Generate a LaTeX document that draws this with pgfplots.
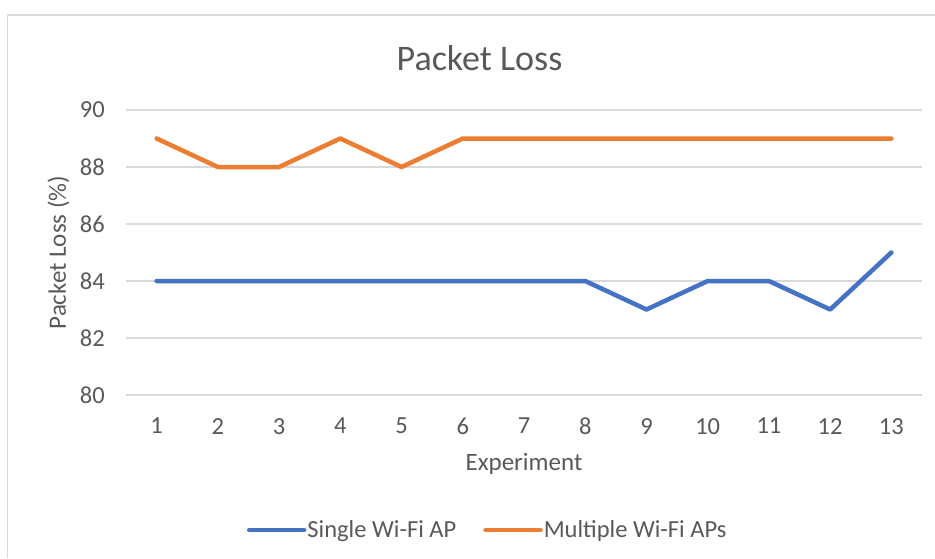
\documentclass[border=0pt]{standalone}
\usepackage{pgfplots}
\pgfplotsset{compat=1.18}
\usepackage{fontspec}
\setmainfont{Carlito}
\definecolor{cblue}{HTML}{4472C4}
\definecolor{corange}{HTML}{ED7D31}
\definecolor{cgrid}{HTML}{D9D9D9}
\definecolor{ctext}{HTML}{595959}
\begin{document}
\begin{tikzpicture}[x=1pt,y=1pt]
\useasboundingbox (0,0) rectangle (935,558);
\draw[cgrid, line width=1.3pt] (7.5,0) -- (7.5,543) -- (935,543);
\begin{axis}[
  at={(126pt,163pt)}, anchor=south west,
  scale only axis, width=796pt, height=285pt,
  xmin=0.5, xmax=13.5, ymin=80, ymax=90,
  xtick={1,2,3,4,5,6,7,8,9,10,11,12,13},
  ytick={80,82,84,86,88,90},
  axis line style={draw=none},
  major tick length=0pt,
  ymajorgrids, grid style={cgrid, line width=1.3pt},
  /pgf/number format/assume math mode=true,
  every tick label/.append style={font=\fontsize{24.5}{28}\selectfont, text=ctext, inner sep=0pt},
  yticklabel style={anchor=east, xshift=-21pt},
  xticklabel style={anchor=north, yshift=-23pt},
  xlabel={Experiment},
  xlabel style={at={(axis description cs:0.5,-0.2632)}, anchor=base, font=\fontsize{25}{28}\selectfont, text=ctext, inner sep=0pt},
  ylabel={Packet Loss (\%)},
  ylabel style={at={(axis description cs:-0.0754,0.5)}, anchor=base, font=\fontsize{25}{28}\selectfont, text=ctext, inner sep=0pt},
  title={Packet Loss},
  title style={at={(axis description cs:0.4441,1.1193)}, anchor=base, font=\fontsize{36}{40}\selectfont, text=ctext, inner sep=0pt},
  legend columns=2,
  legend style={at={(axis description cs:0.152,-0.4737)}, anchor=west, draw=none, fill=none,
    inner sep=0pt, outer sep=0pt, font=\fontsize{24.5}{28}\selectfont, text=ctext,
    nodes={inner sep=1pt},
    /tikz/every even column/.append style={column sep=26pt}},
  legend cell align=left,
  legend image code/.code={\draw[#1] (0pt,0pt) -- (55pt,0pt);},
  every axis plot/.append style={line width=4.5pt, line join=round, line cap=round},
]
\addplot[cblue] coordinates {(1,84)(2,84)(3,84)(4,84)(5,84)(6,84)(7,84)(8,84)(9,83)(10,84)(11,84)(12,83)(13,85)};
\addlegendentry{Single Wi-Fi AP}
\addplot[corange] coordinates {(1,89)(2,88)(3,88)(4,89)(5,88)(6,89)(7,89)(8,89)(9,89)(10,89)(11,89)(12,89)(13,89)};
\addlegendentry{Multiple Wi-Fi APs}
\end{axis}
\end{tikzpicture}
\end{document}
